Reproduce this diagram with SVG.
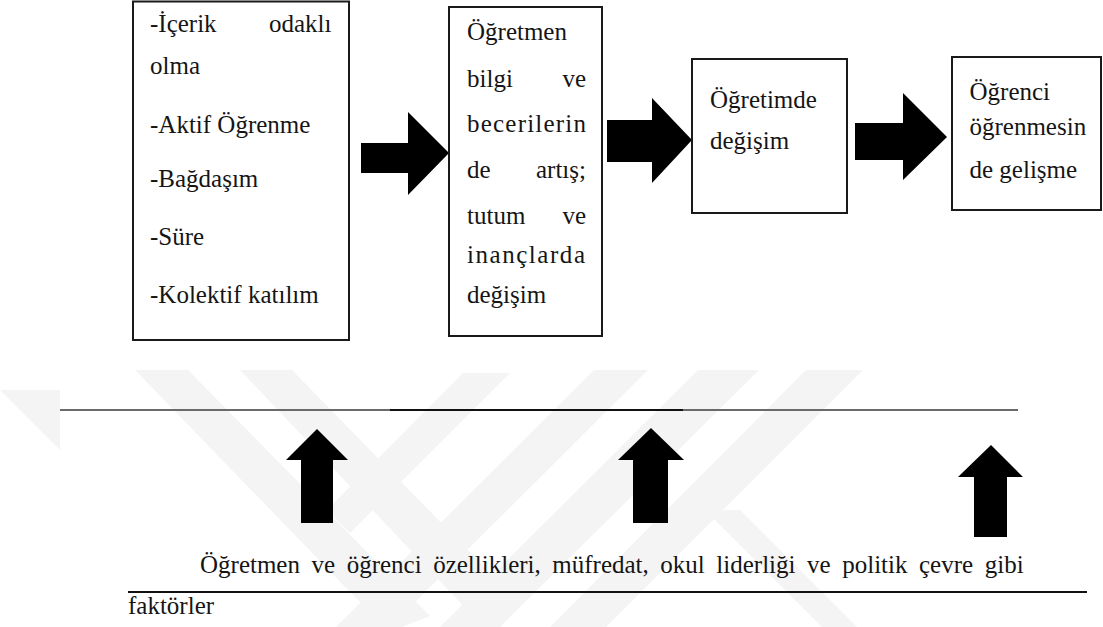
<svg xmlns="http://www.w3.org/2000/svg" width="1103" height="627" viewBox="0 0 1103 627">
<style>
  .box { fill: #ffffff; stroke: #1a1a1a; stroke-width: 2; }
  .t { font-family: "Liberation Serif", "Times New Roman", serif; font-size: 25px; fill: #151515; }
  .arrow { fill: #000000; }
  .wm { fill: #f4f4f4; }
  .rule { stroke: #111111; stroke-width: 2; }
  .ruleg { stroke: #6a6a6a; stroke-width: 2; }
</style>
<rect x="0" y="0" width="1103" height="627" fill="#ffffff"/>

<g id="watermark">
  <polygon class="wm" points="0,390 60,390 60,450"/>
  <polygon class="wm" points="135,370 188,370 430,616 402,627 384,627"/>
  <polygon class="wm" points="240,370 292,370 500,583 470,613"/>
  <polygon class="wm" points="463,373 510,373 350,533 327,510"/>
  <polygon class="wm" points="594,370 648,370 390,627 336,627"/>
  <polygon class="wm" points="698,370 759,370 500,627 440,627"/>
  <polygon class="wm" points="806,370 863,370 606,627 550,627"/>
  <polygon class="wm" points="705,510 740,510 857,627 822,627"/>
</g>

<g id="connectors">
  <polygon id="arrow-1-2" class="arrow" points="361,143 408,143 408,112 449,153 408,195 408,173 361,173"/>
  <polygon id="arrow-2-3" class="arrow" points="607,120 652,120 652,98 692,140 652,183 652,162 607,162"/>
  <polygon id="arrow-3-4" class="arrow" points="855,123 903,123 903,93 947,137 903,180 903,160 855,160"/>
  <polygon id="up-1" class="arrow" points="317,429 348,460 333,460 333,523 301,523 301,460 286,460"/>
  <polygon id="up-2" class="arrow" points="651,428 684,460 668,460 668,523 633,523 633,460 618,460"/>
  <polygon id="up-3" class="arrow" points="991,445 1023,477 1007,477 1007,537 974,537 974,477 958,477"/>
</g>

<g id="node-features">
  <rect class="box" x="133" y="1.5" width="216" height="338.5"/>
  <text class="t" y="32"><tspan x="150">-İçerik</tspan><tspan x="269">odaklı</tspan></text>
  <text class="t" x="150" y="74">olma</text>
  <text class="t" x="150" y="133">-Aktif Öğrenme</text>
  <text class="t" x="150" y="187">-Bağdaşım</text>
  <text class="t" x="150" y="245">-Süre</text>
  <text class="t" x="150" y="303">-Kolektif katılım</text>
</g>

<g id="node-teacher">
  <rect class="box" x="449" y="7" width="153" height="329"/>
  <text class="t" x="467" y="40">Öğretmen</text>
  <text class="t" y="86.5"><tspan x="467">bilgi</tspan><tspan x="562.4">ve</tspan></text>
  <text class="t" x="467" y="132" textLength="119">becerilerin</text>
  <text class="t" y="178"><tspan x="467">de</tspan><tspan x="536">artış;</tspan></text>
  <text class="t" y="224"><tspan x="467">tutum</tspan><tspan x="562.4">ve</tspan></text>
  <text class="t" x="467" y="263" textLength="118">inançlarda</text>
  <text class="t" x="467" y="303">değişim</text>
</g>

<g id="node-instruction">
  <rect class="box" x="692" y="59" width="155" height="154"/>
  <text class="t" x="710" y="108">Öğretimde</text>
  <text class="t" x="710" y="149">değişim</text>
</g>

<g id="node-student">
  <rect class="box" x="952" y="57" width="149" height="153"/>
  <text class="t" x="969.5" y="100">Öğrenci</text>
  <text class="t" x="969.5" y="135">öğrenmesin</text>
  <text class="t" x="969.5" y="178">de gelişme</text>
</g>

<g id="rules">
  <line class="ruleg" x1="60" y1="410" x2="390" y2="410"/>
  <line class="rule" x1="390" y1="410" x2="683" y2="410"/>
  <line class="ruleg" x1="683" y1="410" x2="1018" y2="410"/>
  <line class="rule" x1="128" y1="592" x2="1087" y2="592"/>
</g>

<g id="factors">
  <text class="t" x="200" y="573" word-spacing="5.3">Öğretmen ve öğrenci özellikleri, müfredat, okul liderliği ve politik çevre gibi</text>
  <text class="t" x="128" y="614">faktörler</text>
</g>
</svg>
